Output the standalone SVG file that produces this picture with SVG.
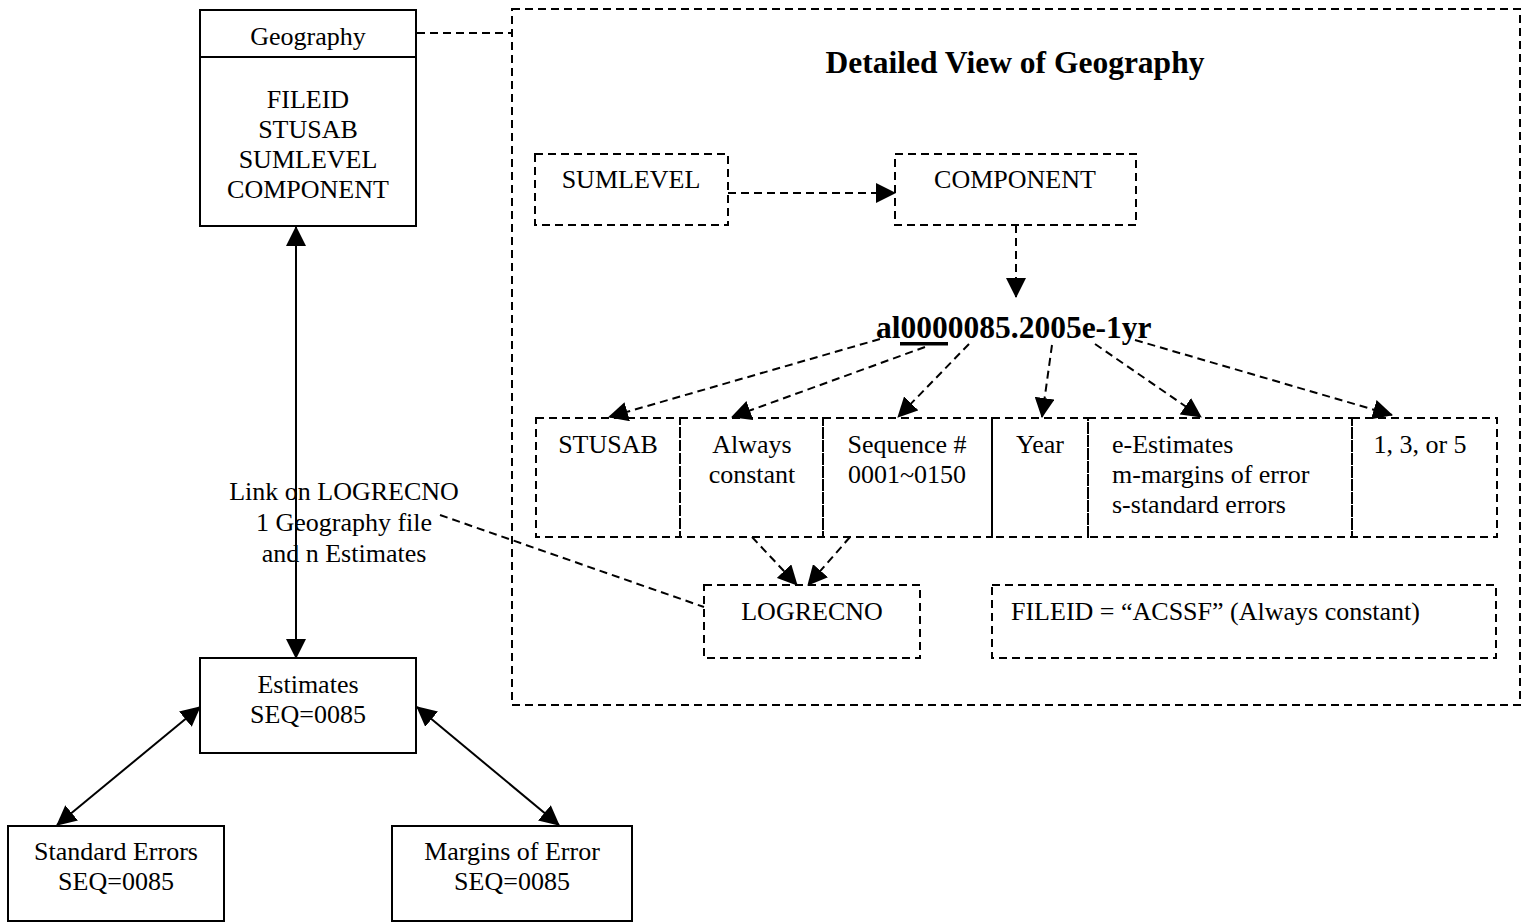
<svg xmlns="http://www.w3.org/2000/svg" width="1527" height="922" viewBox="0 0 1527 922">
<style>
  text { font-family: "Liberation Serif", "Times New Roman", serif; font-size: 26px; fill: #000; }
  .c { text-anchor: middle; }
  .b { font-weight: bold; font-size: 31.5px; }
  .solid { fill: #fff; stroke: #000; stroke-width: 2; }
  .dash { fill: none; stroke: #000; stroke-width: 2; stroke-dasharray: 8 5; }
  .ln { fill: none; stroke: #000; stroke-width: 2; }
  .dl { fill: none; stroke: #000; stroke-width: 2; stroke-dasharray: 8 5; }
</style>
<defs>
  <marker id="ah" markerUnits="userSpaceOnUse" markerWidth="20" markerHeight="20" viewBox="0 0 20 20" refX="19" refY="10" orient="auto-start-reverse">
    <path d="M0,0 L20,10 L0,20 z" fill="#000"/>
  </marker>
</defs>
<rect width="1527" height="922" fill="#fff"/>

<g id="detail-frame">
  <rect class="dash" x="512" y="9" width="1008" height="696"/>
  <text class="b c" x="1015" y="73">Detailed View of Geography</text>
</g>

<g id="connectors">
  <line class="dl" x1="417" y1="33" x2="512" y2="33"/>
  <line class="ln" x1="296" y1="227" x2="296" y2="658" marker-start="url(#ah)" marker-end="url(#ah)"/>
  <line class="ln" x1="200" y1="707" x2="57" y2="825" marker-start="url(#ah)" marker-end="url(#ah)"/>
  <line class="ln" x1="417" y1="707" x2="559" y2="825" marker-start="url(#ah)" marker-end="url(#ah)"/>
  <line class="dl" x1="440" y1="515" x2="704" y2="607"/>
  <line class="dl" x1="728" y1="193" x2="895" y2="193" marker-end="url(#ah)"/>
  <line class="dl" x1="1016" y1="225" x2="1016" y2="297" marker-end="url(#ah)"/>
  <line class="dl" x1="880" y1="339" x2="609" y2="417" marker-end="url(#ah)"/>
  <line class="dl" x1="925" y1="347" x2="732" y2="417" marker-end="url(#ah)"/>
  <line class="dl" x1="969" y1="344" x2="898" y2="417" marker-end="url(#ah)"/>
  <line class="dl" x1="1052" y1="345" x2="1042" y2="417" marker-end="url(#ah)"/>
  <line class="dl" x1="1095" y1="344" x2="1201" y2="417" marker-end="url(#ah)"/>
  <line class="dl" x1="1135" y1="340" x2="1392" y2="415" marker-end="url(#ah)"/>
  <line class="dl" x1="752" y1="537" x2="797" y2="585" marker-end="url(#ah)"/>
  <line class="dl" x1="850" y1="537" x2="808" y2="585" marker-end="url(#ah)"/>
</g>

<g id="geography">
  <rect class="solid" x="200" y="10" width="216" height="216"/>
  <line class="ln" x1="200" y1="57" x2="416" y2="57"/>
  <text class="c" x="308" y="45">Geography</text>
  <text class="c" x="308" y="108">FILEID</text>
  <text class="c" x="308" y="138">STUSAB</text>
  <text class="c" x="308" y="168">SUMLEVEL</text>
  <text class="c" x="308" y="198">COMPONENT</text>
</g>

<g id="estimates">
  <rect class="solid" x="200" y="658" width="216" height="95"/>
  <text class="c" x="308" y="693">Estimates</text>
  <text class="c" x="308" y="723">SEQ=0085</text>
</g>

<g id="standard-errors">
  <rect class="solid" x="8" y="826" width="216" height="95"/>
  <text class="c" x="116" y="860">Standard Errors</text>
  <text class="c" x="116" y="890">SEQ=0085</text>
</g>

<g id="margins-of-error">
  <rect class="solid" x="392" y="826" width="240" height="95"/>
  <text class="c" x="512" y="860">Margins of Error</text>
  <text class="c" x="512" y="890">SEQ=0085</text>
</g>

<g id="link-label">
  <text class="c" x="344" y="500">Link on LOGRECNO</text>
  <text class="c" x="344" y="531">1 Geography file</text>
  <text class="c" x="344" y="562">and n Estimates</text>
</g>

<g id="sumlevel">
  <rect class="dash" x="535" y="154" width="193" height="71"/>
  <text class="c" x="631" y="188">SUMLEVEL</text>
</g>

<g id="component">
  <rect class="dash" x="895" y="154" width="241" height="71"/>
  <text class="c" x="1015" y="188">COMPONENT</text>
</g>

<g id="filename">
  <text class="b" x="876" y="338">al0000085.2005e-1yr</text>
  <rect x="900" y="342" width="48" height="3.5" fill="#000"/>
</g>

<g id="cell-stusab">
  <rect class="dash" x="536" y="418" width="144" height="119"/>
  <text class="c" x="608" y="453">STUSAB</text>
</g>
<g id="cell-constant">
  <rect class="dash" x="680" y="418" width="143" height="119"/>
  <text class="c" x="752" y="453">Always</text>
  <text class="c" x="752" y="483">constant</text>
</g>
<g id="cell-sequence">
  <rect class="dash" x="823" y="418" width="169" height="119"/>
  <text class="c" x="907" y="453">Sequence #</text>
  <text class="c" x="907" y="483">0001~0150</text>
</g>
<g id="cell-year">
  <rect class="dash" x="992" y="418" width="96" height="119"/>
  <text class="c" x="1040" y="453">Year</text>
</g>
<g id="cell-type">
  <rect class="dash" x="1088" y="418" width="264" height="119"/>
  <text x="1112" y="453">e-Estimates</text>
  <text x="1112" y="483">m-margins of error</text>
  <text x="1112" y="513">s-standard errors</text>
</g>
<g id="cell-period">
  <rect class="dash" x="1352" y="418" width="145" height="119"/>
  <text class="c" x="1420" y="453">1, 3, or 5</text>
</g>

<g id="logrecno">
  <rect class="dash" x="704" y="585" width="216" height="73"/>
  <text class="c" x="812" y="620">LOGRECNO</text>
</g>

<g id="fileid">
  <rect class="dash" x="992" y="585" width="504" height="73"/>
  <text x="1011" y="620">FILEID = “ACSSF” (Always constant)</text>
</g>
</svg>
